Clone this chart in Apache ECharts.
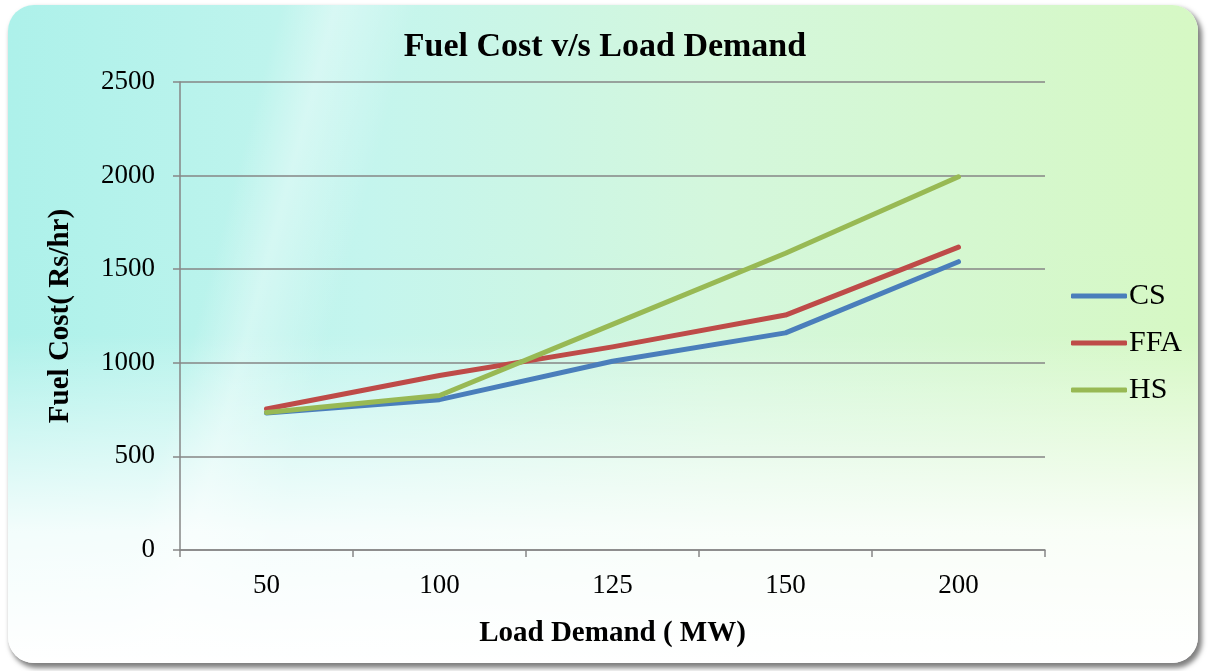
<!DOCTYPE html>
<html>
<head>
<meta charset="utf-8">
<script src="https://cdn.jsdelivr.net/npm/echarts@6/dist/echarts.min.js"></script>
<style>
	html, body { margin: 0; padding: 0; background: #ffffff; }
	#frame {
		position: absolute; left: 8px; top: 5px; width: 1190px; height: 658px;
		border-radius: 26px;
		box-shadow: 3px 4px 5px 1px rgba(0,0,0,0.5);
		background:
			linear-gradient(180deg, rgba(255,255,255,0) 0%, rgba(255,255,255,0) 50%, rgba(255,255,255,0.85) 80%, #ffffff 100%),
			linear-gradient(105deg, rgba(255,255,255,0) 20%, rgba(255,255,255,0.35) 24%, rgba(255,255,255,0) 30%),
			linear-gradient(90deg, #adf1ea 0%, #c4f5ee 30%, #d4f7dc 60%, #d6f8c4 100%);
		overflow: hidden;
	}
	#chart { position: absolute; left: 0; top: 0; width: 1208px; height: 671px; }
</style>
</head>
<body>
<div id="frame"></div>
<div id="chart"></div>
<script>
	var categories = ['50', '100', '125', '150', '200'];
	var csValues = [732, 803, 1008, 1160, 1540];
	var ffaValues = [753, 932, 1085, 1255, 1618];
	var hsValues = [735, 825, 1205, 1585, 1994];
	var seriesNames = ['CS', 'FFA', 'HS'];
	var seriesColors = ['#4a7ebb', '#be4b48', '#98b954'];

	var serif = '"Liberation Serif", "Times New Roman", serif';
	var axisGray = '#868686';

	var chart = echarts.init(document.getElementById('chart'));

	function line(name, data, color){
		return {
			name: name,
			type: 'line',
			data: data,
			symbol: 'none',
			lineStyle: { width: 5, color: color, cap: 'round', join: 'round' },
			itemStyle: { color: color }
		};
	}

	var option = {
		animation: false,
		backgroundColor: 'transparent',
		title: {
			text: 'Fuel Cost v/s Load Demand',
			left: 600,
			textAlign: 'center',
			top: 25,
			textStyle: { fontFamily: serif, fontSize: 34, fontWeight: 'bold', color: '#000' }
		},
		legend: {
			orient: 'vertical',
			left: 1066,
			top: 276,
			itemGap: 17,
			itemWidth: 56,
			itemHeight: 5,
			icon: 'roundRect',
			selectedMode: false,
			data: seriesNames,
			textStyle: { fontFamily: serif, fontSize: 30, color: '#000', padding: [0, 0, 0, -3] }
		},
		grid: { left: 180, right: 163, top: 82, bottom: 121 },
		xAxis: {
			type: 'category',
			data: categories,
			boundaryGap: true,
			name: 'Load Demand ( MW)',
			nameLocation: 'middle',
			nameGap: 69,
			nameTextStyle: { fontFamily: serif, fontSize: 29, fontWeight: 'bold', color: '#000' },
			axisLine: { lineStyle: { color: axisGray, width: 1.5 } },
			axisTick: { show: true, length: 7, lineStyle: { color: axisGray, width: 1.5 } },
			axisLabel: { fontFamily: serif, fontSize: 27, color: '#000', margin: 22 },
			splitLine: { show: false }
		},
		yAxis: {
			type: 'value',
			min: 0,
			max: 2500,
			interval: 500,
			name: 'Fuel Cost( Rs/hr)',
			nameLocation: 'middle',
			nameGap: 105,
			nameRotate: 90,
			nameTextStyle: { fontFamily: serif, fontSize: 29, fontWeight: 'bold', color: '#000' },
			axisLine: { show: true, lineStyle: { color: axisGray, width: 1.5 } },
			axisTick: { show: true, length: 7, lineStyle: { color: axisGray, width: 1.5 } },
			axisLabel: {
				fontFamily: serif, fontSize: 27, color: '#000', margin: 25,
				formatter: function(v){ return String(v); }
			},
			splitLine: { lineStyle: { color: axisGray, width: 1.5 } }
		},
		series: [
			line(seriesNames[0], csValues, seriesColors[0]),
			line(seriesNames[1], ffaValues, seriesColors[1]),
			line(seriesNames[2], hsValues, seriesColors[2])
		]
	};

	chart.setOption(option);
</script>
</body>
</html>
